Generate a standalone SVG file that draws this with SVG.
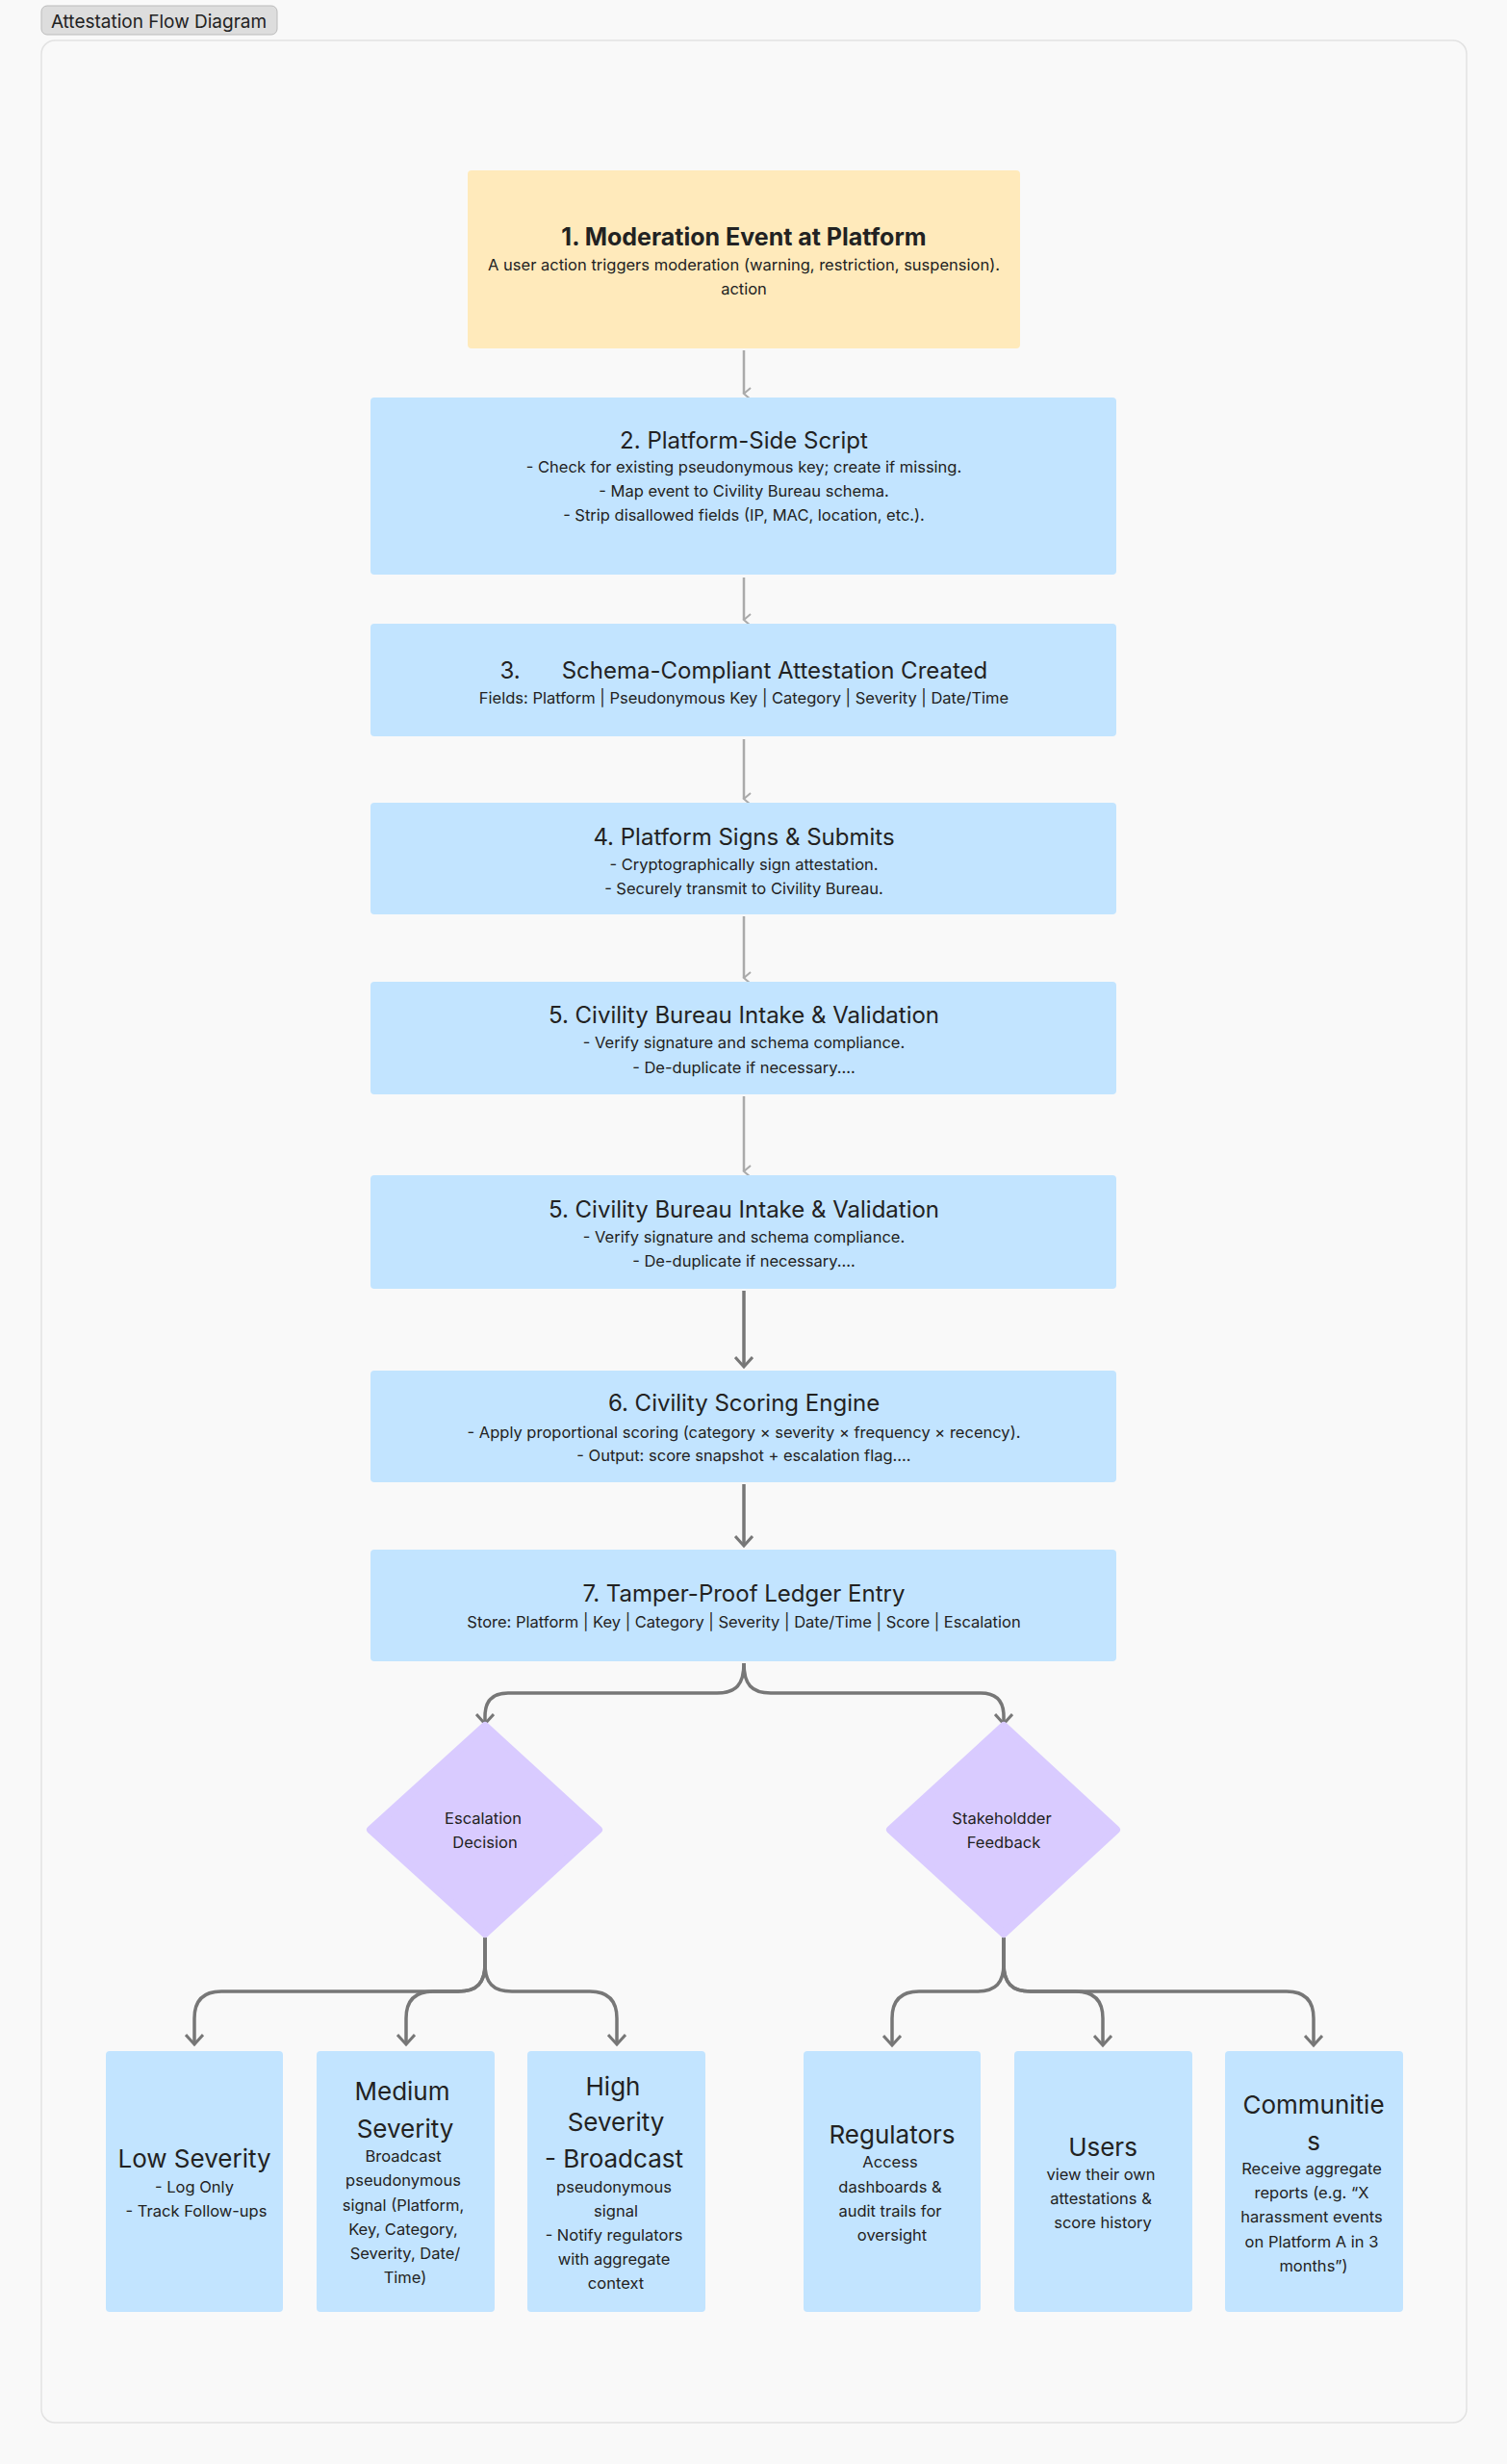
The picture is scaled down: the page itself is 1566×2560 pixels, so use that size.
<svg xmlns="http://www.w3.org/2000/svg" width="1566" height="2560" viewBox="0 0 1566 2560">
<defs>
<style>
text{font-family:Inter,"Noto Sans","Liberation Sans",sans-serif;fill:#222;text-anchor:middle}
.t{font-size:24px}
.tb{font-size:25px;font-weight:700}
.s{font-size:16.5px}
.bt{font-size:26px}
.d{font-size:16.5px}
.box{fill:#c2e4ff}
.lc{fill:none;stroke:#aaaaaa;stroke-width:2.5}
.dc{fill:none;stroke:#777777;stroke-width:3.5}
</style>
<marker id="al" viewBox="0 0 14 14" refX="7" refY="12" markerWidth="14" markerHeight="14" markerUnits="userSpaceOnUse" orient="auto-start-reverse">
<path d="M1,5 L7,12 L13,5" fill="none" stroke="#aaaaaa" stroke-width="2"/>
</marker>
<marker id="ad" viewBox="0 0 20 20" refX="10" refY="17" markerWidth="20" markerHeight="20" markerUnits="userSpaceOnUse" orient="0">
<path d="M1,7 L10,17 L19,7" fill="none" stroke="#777777" stroke-width="3"/>
</marker>
</defs>
<rect width="1566" height="2560" fill="#f9f9f9"/>
<rect x="43" y="42" width="1481" height="2475" rx="14" fill="#f9f9f9" stroke="#e2e2e2" stroke-width="1.5"/>
<rect x="43" y="6" width="245" height="30" rx="6" fill="#dddddd" stroke="#bbbbbb"/>
<text x="165" y="29" style="font-size:19px">Attestation Flow Diagram</text>

<g id="connectors">
<path class="lc" d="M773,364 V409" marker-end="url(#al)"/>
<path class="lc" d="M773,600 V644" marker-end="url(#al)"/>
<path class="lc" d="M773,768 V830" marker-end="url(#al)"/>
<path class="lc" d="M773,952 V1016" marker-end="url(#al)"/>
<path class="lc" d="M773,1139 V1217" marker-end="url(#al)"/>
<path class="dc" d="M773,1341 V1420" marker-end="url(#ad)"/>
<path class="dc" d="M773,1542 V1606" marker-end="url(#ad)"/>
<path class="dc" d="M773,1728 C773,1750 765,1759 745,1759 L528,1759 Q504,1759 504,1783 V1791" marker-end="url(#ad)"/>
<path class="dc" d="M773,1728 C773,1750 781,1759 801,1759 L1019,1759 Q1043,1759 1043,1783 V1791" marker-end="url(#ad)"/>
<path class="dc" d="M504,2013 V2040 C504,2060 496,2069 476,2069 L230,2069 Q202,2069 202,2097 V2124" marker-end="url(#ad)"/>
<path class="dc" d="M504,2013 V2040 C504,2060 496,2069 476,2069 L450,2069 Q422,2069 422,2097 V2124" marker-end="url(#ad)"/>
<path class="dc" d="M504,2013 V2040 C504,2060 512,2069 532,2069 L613,2069 Q641,2069 641,2097 V2124" marker-end="url(#ad)"/>
<path class="dc" d="M1043,2013 V2040 C1043,2060 1035,2069 1015,2069 L955,2069 Q927,2069 927,2097 V2125" marker-end="url(#ad)"/>
<path class="dc" d="M1043,2013 V2040 C1043,2060 1051,2069 1071,2069 L1118,2069 Q1146,2069 1146,2097 V2125" marker-end="url(#ad)"/>
<path class="dc" d="M1043,2013 V2040 C1043,2060 1051,2069 1071,2069 L1337,2069 Q1365,2069 1365,2097 V2125" marker-end="url(#ad)"/>
</g>

<g id="n1"><rect x="486" y="177" width="574" height="185" rx="4" fill="#ffeabb"/>
<text x="773" y="255" class="tb">1. Moderation Event at Platform</text>
<text x="773" y="281" class="s">A user action triggers moderation (warning, restriction, suspension).</text>
<text x="773" y="306" class="s">action</text></g>

<g id="n2"><rect class="box" x="385" y="413" width="775" height="184" rx="4"/>
<text x="773" y="466" class="t">2. Platform-Side Script</text>
<text x="773" y="491" class="s">- Check for existing pseudonymous key; create if missing.</text>
<text x="773" y="516" class="s">- Map event to Civility Bureau schema.</text>
<text x="773" y="541" class="s">- Strip disallowed fields (IP, MAC, location, etc.).</text></g>

<g id="n3"><rect class="box" x="385" y="648" width="775" height="117" rx="4"/>
<text x="530" y="705" class="t">3.</text>
<text x="805" y="705" class="t">Schema-Compliant Attestation Created</text>
<text x="773" y="731" class="s">Fields: Platform | Pseudonymous Key | Category | Severity | Date/Time</text></g>

<g id="n4"><rect class="box" x="385" y="834" width="775" height="116" rx="4"/>
<text x="773" y="878" class="t">4. Platform Signs &amp; Submits</text>
<text x="773" y="904" class="s">- Cryptographically sign attestation.</text>
<text x="773" y="929" class="s">- Securely transmit to Civility Bureau.</text></g>

<g id="n5"><rect class="box" x="385" y="1020" width="775" height="117" rx="4"/>
<text x="773" y="1063" class="t">5. Civility Bureau Intake &amp; Validation</text>
<text x="773" y="1089" class="s">- Verify signature and schema compliance.</text>
<text x="773" y="1115" class="s">- De-duplicate if necessary....</text></g>

<g id="n5b"><rect class="box" x="385" y="1221" width="775" height="118" rx="4"/>
<text x="773" y="1265" class="t">5. Civility Bureau Intake &amp; Validation</text>
<text x="773" y="1291" class="s">- Verify signature and schema compliance.</text>
<text x="773" y="1316" class="s">- De-duplicate if necessary....</text></g>

<g id="n6"><rect class="box" x="385" y="1424" width="775" height="116" rx="4"/>
<text x="773" y="1466" class="t">6. Civility Scoring Engine</text>
<text x="773" y="1494" class="s">- Apply proportional scoring (category × severity × frequency × recency).</text>
<text x="773" y="1518" class="s">- Output: score snapshot + escalation flag....</text></g>

<g id="n7"><rect class="box" x="385" y="1610" width="775" height="116" rx="4"/>
<text x="773" y="1664" class="t">7. Tamper-Proof Ledger Entry</text>
<text x="773" y="1691" class="s">Store: Platform | Key | Category | Severity | Date/Time | Score | Escalation</text></g>

<g id="d1"><path d="M504,1793 L385,1901 L504,2009 L622,1901 Z" fill="#d9cbff" stroke="#d9cbff" stroke-width="8" stroke-linejoin="round"/>
<text x="502" y="1895" class="d">Escalation</text>
<text x="504" y="1920" class="d">Decision</text></g>

<g id="d2"><path d="M1043,1793 L925,1901 L1043,2009 L1160,1901 Z" fill="#d9cbff" stroke="#d9cbff" stroke-width="8" stroke-linejoin="round"/>
<text x="1041" y="1895" class="d">Stakeholdder</text>
<text x="1043" y="1920" class="d">Feedback</text></g>

<g id="b1"><rect class="box" x="110" y="2131" width="184" height="271" rx="4"/>
<text x="202" y="2252" class="bt">Low Severity</text>
<text x="202" y="2278" class="s">- Log Only</text>
<text x="204" y="2303" class="s">- Track Follow-ups</text></g>

<g id="b2"><rect class="box" x="329" y="2131" width="185" height="271" rx="4"/>
<text x="418" y="2182" class="bt">Medium</text>
<text x="421" y="2221" class="bt">Severity</text>
<text x="419" y="2246" class="s">Broadcast</text>
<text x="419" y="2271" class="s">pseudonymous</text>
<text x="419" y="2297" class="s">signal (Platform,</text>
<text x="419" y="2322" class="s">Key, Category,</text>
<text x="421" y="2347" class="s">Severity, Date/</text>
<text x="421" y="2372" class="s">Time)</text></g>

<g id="b3"><rect class="box" x="548" y="2131" width="185" height="271" rx="4"/>
<text x="637" y="2177" class="bt">High</text>
<text x="640" y="2214" class="bt">Severity</text>
<text x="638" y="2252" class="bt">- Broadcast</text>
<text x="638" y="2278" class="s">pseudonymous</text>
<text x="640" y="2303" class="s">signal</text>
<text x="638" y="2328" class="s">- Notify regulators</text>
<text x="638" y="2353" class="s">with aggregate</text>
<text x="640" y="2378" class="s">context</text></g>

<g id="b4"><rect class="box" x="835" y="2131" width="184" height="271" rx="4"/>
<text x="927" y="2227" class="bt">Regulators</text>
<text x="925" y="2252" class="s">Access</text>
<text x="925" y="2278" class="s">dashboards &amp;</text>
<text x="925" y="2303" class="s">audit trails for</text>
<text x="927" y="2328" class="s">oversight</text></g>

<g id="b5"><rect class="box" x="1054" y="2131" width="185" height="271" rx="4"/>
<text x="1146" y="2240" class="bt">Users</text>
<text x="1144" y="2265" class="s">view their own</text>
<text x="1144" y="2290" class="s">attestations &amp;</text>
<text x="1146" y="2315" class="s">score history</text></g>

<g id="b6"><rect class="box" x="1273" y="2131" width="185" height="271" rx="4"/>
<text x="1365" y="2196" class="bt">Communitie</text>
<text x="1365" y="2234" class="bt">s</text>
<text x="1363" y="2259" class="s">Receive aggregate</text>
<text x="1363" y="2284" class="s">reports (e.g. “X</text>
<text x="1363" y="2309" class="s">harassment events</text>
<text x="1363" y="2335" class="s">on Platform A in 3</text>
<text x="1365" y="2360" class="s">months”)</text></g>
</svg>
